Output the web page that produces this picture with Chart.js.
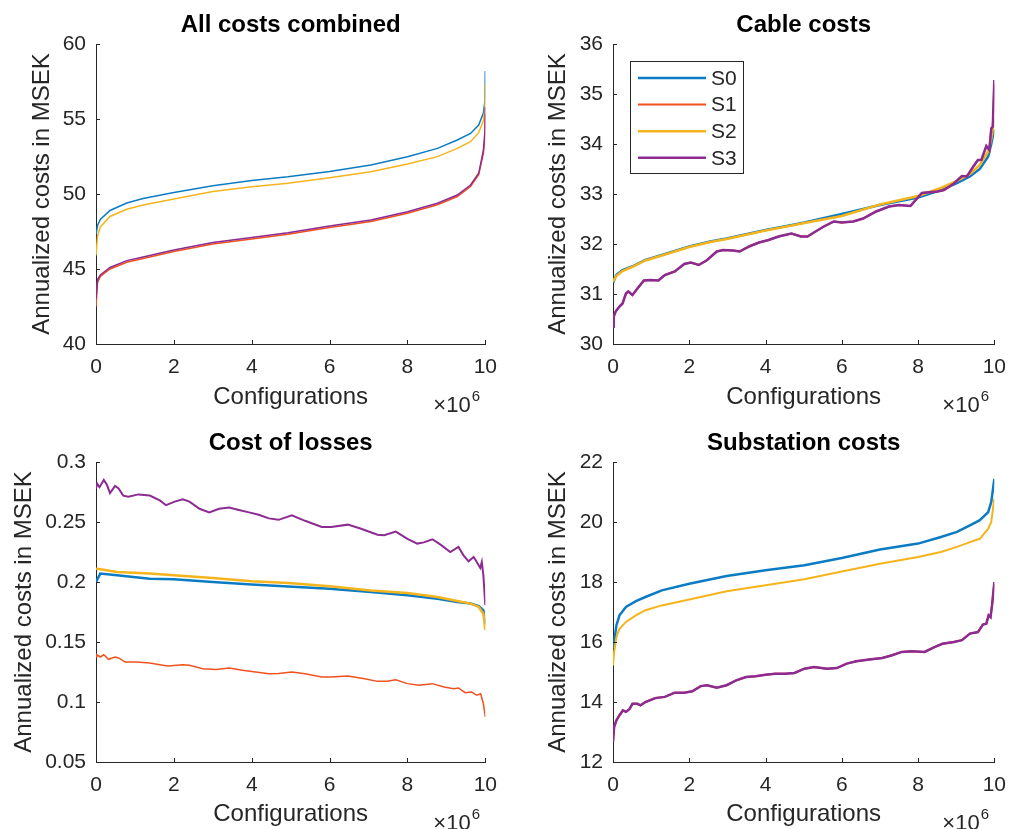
<!DOCTYPE html>
<html>
<head>
<meta charset="utf-8">
<script src="https://cdn.jsdelivr.net/npm/chart.js@4.4.1/dist/chart.umd.min.js"></script>
<style>
  body { margin: 0; background: #fff; width: 1017px; height: 829px; overflow: hidden; position: relative; }
  canvas { position: absolute; }
</style>
</head>
<body>
<canvas id="c-all"   width="508" height="414" style="left:0;top:0"></canvas>
<canvas id="c-cable" width="509" height="414" style="left:508px;top:0"></canvas>
<canvas id="c-loss"  width="508" height="415" style="left:0;top:414px"></canvas>
<canvas id="c-sub"   width="509" height="415" style="left:508px;top:414px"></canvas>
<script>
// ── Series names / x in units of 10^6 configurations ─────────────────────────
const NAMES  = ['S0', 'S1', 'S2', 'S3'];
const COLORS = ['#0b7cc4', '#f0521f', '#f5b41c', '#8c2b92'];

// All costs combined
const allX  = [0, 0.04, 0.11, 0.36, 0.79, 1.21, 2, 3, 4, 4.93, 6, 7.06, 8, 8.77, 9.28, 9.62, 9.83, 9.95, 9.99, 10];
const allS0 = [47.3, 47.9, 48.3, 48.9, 49.4, 49.7, 50.1, 50.55, 50.9, 51.15, 51.5, 51.93, 52.49, 53.04, 53.6, 54.04, 54.6, 55.4, 56.2, 58.2];
const allS1 = [42.5, 44.1, 44.5, 45.0, 45.45, 45.7, 46.17, 46.66, 47.0, 47.32, 47.77, 48.17, 48.72, 49.28, 49.83, 50.5, 51.28, 52.7, 53.8, 55.3];
const allS2 = [45.9, 47.2, 47.8, 48.5, 48.98, 49.27, 49.67, 50.16, 50.49, 50.72, 51.09, 51.49, 52.0, 52.49, 53.04, 53.49, 54.09, 54.9, 55.7, 57.4];
const allS3 = [43.0, 44.3, 44.6, 45.1, 45.56, 45.8, 46.27, 46.76, 47.1, 47.42, 47.87, 48.27, 48.82, 49.38, 49.93, 50.6, 51.38, 52.9, 54.2, 55.8];

// Cable costs
const cableX  = [0, 0.085, 0.25, 0.5, 0.85, 1.28, 2, 2.55, 2.98, 4, 4.76, 5.02, 6, 7, 8, 8.6, 9.02, 9.36, 9.62, 9.84, 9.92, 10];
const cableS0 = [31.22, 31.38, 31.48, 31.55, 31.68, 31.78, 31.95, 32.05, 32.11, 32.28, 32.39, 32.43, 32.6, 32.78, 32.93, 33.08, 33.22, 33.35, 33.5, 33.75, 34.0, 34.3];
const cableS2 = [31.25, 31.36, 31.46, 31.54, 31.67, 31.77, 31.94, 32.04, 32.1, 32.27, 32.38, 32.42, 32.56, 32.79, 32.96, 33.12, 33.26, 33.4, 33.58, 33.85, 34.1, 34.5];
const cableWX = [0, 0.02, 0.07, 0.17, 0.25, 0.34, 0.4, 0.51, 0.64, 0.81, 0.98, 1.19, 1.36, 1.62, 1.87, 2.04, 2.25, 2.47, 2.72, 2.89,
                 3.15, 3.32, 3.57, 3.83, 4.08, 4.34, 4.68, 4.93, 5.1, 5.27, 5.53, 5.79, 6.0, 6.3, 6.56, 6.9, 7.24, 7.5, 7.8, 8.1,
                 8.51, 8.68, 8.94, 9.15, 9.28, 9.45, 9.57, 9.66, 9.79, 9.87, 9.92, 9.96, 10];
const cableS1 = [30.35, 30.55, 30.65, 30.75, 30.81, 31.01, 31.05, 30.98, 31.11, 31.27, 31.28, 31.27, 31.38, 31.45, 31.6, 31.63, 31.58, 31.68, 31.85, 31.88,
                 31.87, 31.85, 31.95, 32.03, 32.08, 32.15, 32.21, 32.15, 32.15, 32.23, 32.35, 32.45, 32.43, 32.45, 32.51, 32.65, 32.75, 32.78, 32.76, 33.02,
                 33.05, 33.08, 33.21, 33.36, 33.35, 33.55, 33.68, 33.68, 33.96, 33.88, 34.31, 34.35, 35.2];
const cableS3 = [30.35, 30.55, 30.65, 30.75, 30.81, 31.01, 31.05, 30.98, 31.11, 31.27, 31.28, 31.27, 31.38, 31.45, 31.6, 31.63, 31.58, 31.68, 31.85, 31.88,
                 31.87, 31.85, 31.95, 32.03, 32.08, 32.15, 32.21, 32.15, 32.15, 32.23, 32.35, 32.45, 32.43, 32.45, 32.51, 32.65, 32.75, 32.78, 32.76, 33.02,
                 33.05, 33.08, 33.21, 33.36, 33.35, 33.55, 33.68, 33.68, 33.96, 33.88, 34.31, 34.35, 35.28];

// Cost of losses
const lossX  = [0, 0.11, 0.54, 1.38, 2, 3, 4, 4.94, 6, 7.06, 8, 8.77, 9.28, 9.62, 9.83, 9.95, 10];
const lossS0 = [0.2, 0.207, 0.2056, 0.2028, 0.2022, 0.2, 0.198, 0.1962, 0.1944, 0.1917, 0.1889, 0.1861, 0.1833, 0.182, 0.18, 0.1764, 0.165];
const lossS2 = [0.2111, 0.2106, 0.2083, 0.207, 0.2056, 0.2033, 0.2006, 0.1992, 0.1964, 0.193, 0.1908, 0.1875, 0.1842, 0.182, 0.1792, 0.1736, 0.16];
const lossS1X = [0, 0.02, 0.11, 0.2, 0.32, 0.49, 0.58, 0.75, 1.04, 1.38, 1.72, 1.85, 2.23, 2.4, 2.74, 3.08, 3.42, 3.76, 4.1, 4.44,
                 4.69, 5.03, 5.37, 5.8, 6.04, 6.47, 6.9, 7.23, 7.48, 7.7, 8.0, 8.3, 8.64, 8.94, 9.19, 9.31, 9.48, 9.65, 9.78, 9.88, 9.95, 10];
const lossS1  = [0.1375, 0.1394, 0.1375, 0.1394, 0.1356, 0.1375, 0.1367, 0.1333, 0.1333, 0.1325, 0.1306, 0.13, 0.1311, 0.1306, 0.1278, 0.127, 0.1283, 0.1264, 0.125, 0.1236,
                 0.1238, 0.125, 0.1236, 0.1208, 0.1208, 0.1217, 0.1194, 0.1172, 0.1172, 0.1186, 0.1153, 0.1139, 0.1153, 0.1125, 0.1111, 0.1117, 0.1078, 0.1083, 0.1056, 0.1069, 0.0986, 0.0875];
const lossS3X = [0, 0.03, 0.09, 0.2, 0.28, 0.36, 0.49, 0.58, 0.7, 0.83, 1.09, 1.38, 1.64, 1.8, 2.02, 2.23, 2.4, 2.66, 2.91, 3.16,
                 3.42, 3.67, 3.93, 4.18, 4.44, 4.69, 5.03, 5.37, 5.8, 6.04, 6.47, 6.81, 7.23, 7.4, 7.7, 8.0, 8.25, 8.42, 8.64, 8.85,
                 9.1, 9.31, 9.44, 9.57, 9.7, 9.78, 9.87, 9.91, 9.95, 10];
const lossS3  = [0.278, 0.282, 0.279, 0.285, 0.281, 0.274, 0.28, 0.278, 0.272, 0.271, 0.273, 0.272, 0.268, 0.264, 0.267, 0.269, 0.267, 0.261, 0.258, 0.261,
                 0.262, 0.26, 0.258, 0.256, 0.253, 0.2518, 0.2556, 0.251, 0.2458, 0.2458, 0.2478, 0.2444, 0.2394, 0.239, 0.242, 0.236, 0.232, 0.233, 0.2356, 0.2311,
                 0.225, 0.2292, 0.2222, 0.2172, 0.2208, 0.2167, 0.2117, 0.2167, 0.2056, 0.1806];

// Substation costs
const subX  = [0, 0.03, 0.09, 0.17, 0.34, 0.6, 0.85, 1.28, 2, 2.98, 4, 5.02, 6, 7, 8, 8.6, 9.02, 9.36, 9.62, 9.84, 9.92, 10];
const subS0 = [15.8, 16.0, 16.56, 16.89, 17.17, 17.36, 17.5, 17.72, 17.94, 18.2, 18.39, 18.56, 18.8, 19.08, 19.28, 19.5, 19.67, 19.89, 20.06, 20.33, 20.67, 21.44];
const subS2 = [15.22, 15.67, 16.17, 16.44, 16.67, 16.89, 17.06, 17.22, 17.42, 17.69, 17.89, 18.09, 18.35, 18.61, 18.83, 19.0, 19.17, 19.33, 19.44, 19.78, 20.0, 20.78];
const subWX = [0, 0.03, 0.09, 0.17, 0.26, 0.34, 0.43, 0.51, 0.64, 0.72, 0.85, 1.11, 1.36, 1.62, 1.87, 2.08, 2.3, 2.47, 2.72, 2.98,
               3.23, 3.49, 3.74, 4, 4.25, 4.51, 4.76, 5.02, 5.27, 5.61, 5.87, 6.13, 6.38, 6.72, 7.06, 7.32, 7.57, 7.83, 8.17, 8.43,
               8.64, 8.94, 9.15, 9.36, 9.57, 9.7, 9.79, 9.85, 9.9, 9.94, 10];
const subS1 = [12.67, 13.17, 13.39, 13.56, 13.72, 13.67, 13.76, 13.94, 13.94, 13.89, 14.0, 14.13, 14.17, 14.31, 14.31, 14.36, 14.53, 14.56, 14.48, 14.56,
               14.72, 14.83, 14.86, 14.91, 14.94, 14.94, 14.97, 15.11, 15.17, 15.11, 15.13, 15.28, 15.36, 15.42, 15.47, 15.56, 15.67, 15.69, 15.67, 15.83,
               15.94, 16.0, 16.06, 16.28, 16.33, 16.58, 16.61, 16.89, 16.83, 17.22, 17.95];
const subS3 = [12.67, 13.17, 13.39, 13.56, 13.72, 13.67, 13.76, 13.94, 13.94, 13.89, 14.0, 14.13, 14.17, 14.31, 14.31, 14.36, 14.53, 14.56, 14.48, 14.56,
               14.72, 14.83, 14.86, 14.91, 14.94, 14.94, 14.97, 15.11, 15.17, 15.11, 15.13, 15.28, 15.36, 15.42, 15.47, 15.56, 15.67, 15.69, 15.67, 15.83,
               15.94, 16.0, 16.06, 16.28, 16.33, 16.58, 16.61, 16.89, 16.83, 17.22, 18.0];

// ── Styling helpers ──────────────────────────────────────────────────────────
const FONT = '"Liberation Sans", Arial, Helvetica, sans-serif';
const INK  = '#262626';

function pts(xs, ys) { return xs.map((x, i) => ({ x, y: ys[i] })); }

// MATLAB-style inward tick marks + the ×10^6 exponent label
const matlabAxes = {
  id: 'matlabAxes',
  afterDraw(chart) {
    const { ctx, chartArea: a, scales: { x, y } } = chart;
    ctx.save();
    ctx.strokeStyle = INK;
    ctx.lineWidth = 1;
    ctx.beginPath();
    x.ticks.forEach(t => {
      const px = Math.round(x.getPixelForValue(t.value)) + 0.5;
      ctx.moveTo(px, a.bottom); ctx.lineTo(px, a.bottom - 4);
    });
    y.ticks.forEach(t => {
      const py = Math.round(y.getPixelForValue(t.value)) + 0.5;
      ctx.moveTo(a.left, py); ctx.lineTo(a.left + 4, py);
    });
    ctx.stroke();

    ctx.fillStyle = INK;
    ctx.textBaseline = 'alphabetic';
    ctx.textAlign = 'left';
    ctx.font = '22px ' + FONT;
    const bx = a.right - 52, by = a.bottom + 68;
    ctx.fillText('\u00d710', bx, by);
    const w = ctx.measureText('\u00d710').width;
    ctx.font = '15px ' + FONT;
    ctx.fillText('6', bx + w + 1, by - 11);
    ctx.restore();
  }
};

// boxed legend drawn inside the plot (top-left), like MATLAB's 'northwest'
const boxLegend = {
  id: 'boxLegend',
  afterDraw(chart, args, opts) {
    if (!opts.show) return;
    const { ctx, chartArea: a } = chart;
    const left = a.left + 17, top = a.top + 17;
    ctx.save();
    ctx.fillStyle = '#fff';
    ctx.fillRect(left, top, 113, 112);
    ctx.strokeStyle = INK;
    ctx.lineWidth = 1;
    ctx.strokeRect(left + 0.5, top + 0.5, 113, 112);
    ctx.font = '21px ' + FONT;
    ctx.textBaseline = 'middle';
    chart.data.datasets.forEach((ds, i) => {
      const yy = top + 17 + i * 26.6;
      ctx.strokeStyle = ds.borderColor;
      ctx.lineWidth = opts.widths[i];
      ctx.beginPath(); ctx.moveTo(left + 8, yy); ctx.lineTo(left + 76, yy); ctx.stroke();
      ctx.fillStyle = INK;
      ctx.fillText(ds.label, left + 81, yy + 1);
    });
    ctx.restore();
  }
};

function makeChart(id, p) {
  return new Chart(document.getElementById(id), {
    type: 'line',
    data: {
      datasets: p.series.map((s, i) => ({
        label: NAMES[i],
        data: pts(s[0], s[1]),
        borderColor: COLORS[i],
        borderWidth: p.widths[i],
        pointRadius: 0,
        tension: 0,
        fill: false,
        order: 3 - i
      }))
    },
    options: {
      responsive: false,
      animation: false,
      events: [],
      layout: { padding: { left: 0, right: p.padRight, top: 0, bottom: 0 } },
      plugins: {
        legend: { display: false },
        tooltip: { enabled: false },
        title: {
          display: true, text: p.title, color: '#000', fullSize: false,
          font: { family: FONT, size: 24, weight: 'bold' },
          padding: { top: p.titleTop, bottom: 4.6 }
        },
        boxLegend: { show: !!p.legend, widths: p.widths }
      },
      scales: {
        x: {
          type: 'linear', min: 0, max: 10,
          ticks: { stepSize: 2, color: INK, font: { family: FONT, size: 21 }, padding: 11, maxRotation: 0, autoSkip: false },
          grid: { display: false, drawTicks: false },
          border: { display: true, color: INK, width: 1 },
          title: { display: true, text: 'Configurations', color: INK, font: { family: FONT, size: 24 }, padding: { top: 0, bottom: p.xTitleBottom } },
          afterFit: s => { s.height = p.xHeight; }
        },
        y: {
          min: p.yMin, max: p.yMax,
          ticks: { stepSize: p.yStep, color: INK, font: { family: FONT, size: 21 }, padding: 10,
                   callback: v => String(Math.round(v * 100) / 100) },
          grid: { display: false, drawTicks: false },
          border: { display: true, color: INK, width: 1 },
          title: { display: true, text: 'Annualized costs in MSEK', color: INK, font: { family: FONT, size: 24 }, padding: { top: p.yTitlePad, bottom: 0 } },
          afterFit: s => { s.width = p.yWidth; }
        }
      }
    },
    plugins: [matlabAxes, boxLegend]
  });
}

makeChart('c-all', {
  title: 'All costs combined', titleTop: 10.6,
  series: [[allX, allS0], [allX, allS1], [allX, allS2], [allX, allS3]],
  widths: [1.5, 1.5, 1.5, 1.5],
  yMin: 40, yMax: 60, yStep: 5,
  yWidth: 96, padRight: 19, yTitlePad: 27.6, xHeight: 70, xTitleBottom: 2.6
});

makeChart('c-cable', {
  title: 'Cable costs', titleTop: 10.6, legend: true,
  series: [[cableX, cableS0], [cableWX, cableS1], [cableX, cableS2], [cableWX, cableS3]],
  widths: [2.5, 2, 2.5, 2.5],
  yMin: 30, yMax: 36, yStep: 1,
  yWidth: 105, padRight: 12, yTitlePad: 36, xHeight: 70, xTitleBottom: 2.6
});

makeChart('c-loss', {
  title: 'Cost of losses', titleTop: 14.6,
  series: [[lossX, lossS0], [lossS1X, lossS1], [lossX, lossS2], [lossS3X, lossS3]],
  widths: [2.5, 1.5, 2.5, 2],
  yMin: 0.05, yMax: 0.3, yStep: 0.05,
  yWidth: 96, padRight: 19, yTitlePad: 9.6, xHeight: 67, xTitleBottom: 0
});

makeChart('c-sub', {
  title: 'Substation costs', titleTop: 14.6,
  series: [[subX, subS0], [subWX, subS1], [subX, subS2], [subWX, subS3]],
  widths: [2.5, 2, 2, 2.5],
  yMin: 12, yMax: 22, yStep: 2,
  yWidth: 105, padRight: 12, yTitlePad: 36, xHeight: 67, xTitleBottom: 0
});
</script>
</body>
</html>
